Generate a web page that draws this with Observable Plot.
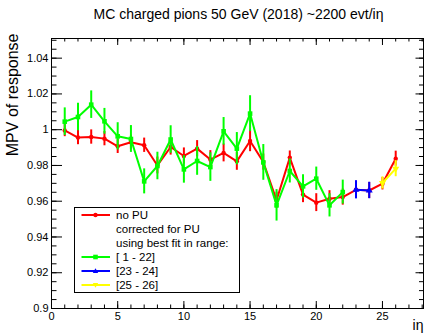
<!DOCTYPE html>
<html><head><meta charset="utf-8">
<script src="https://cdn.jsdelivr.net/npm/d3@7"></script>
<script src="https://cdn.jsdelivr.net/npm/@observablehq/plot@0.6"></script>
<style>
body{margin:0;background:#fff;font-family:"Liberation Sans",Arial,sans-serif}
#wrap{position:relative;width:429px;height:334px}
#legend{position:absolute;left:74px;top:207px;width:164px;height:84px;border:1px solid #000;background:#fff;font-size:11.5px;color:#000}
#legend .row{position:absolute;left:0;height:14px;line-height:14px;white-space:nowrap}
#legend .row span{position:absolute;left:41px;top:0}
#legend .row svg{position:absolute;left:6px;top:0}
</style>
</head><body><div id="wrap"><div id="chart"></div><div id="legend"></div></div>
<script>
// ---- data ----
const etaAll = [1,2,3,4,5,6,7,8,9,10,11,12,13,14,15,16,17,18,19,20,21,22,23,24,25,26];
const noPU    = [0.9996,0.9956,0.9959,0.9950,0.9907,0.9930,0.9913,0.9800,0.9903,0.9853,0.9894,0.9833,0.9870,0.9823,0.9937,0.9819,0.9605,0.9844,0.9637,0.9592,0.9614,0.9623,0.9664,0.9660,0.9698,0.9838];
const noPUErr = [0.0035,0.0040,0.0040,0.0040,0.0040,0.0040,0.0040,0.0047,0.0045,0.0045,0.0045,0.0050,0.0050,0.0050,0.0060,0.0045,0.0045,0.0037,0.0045,0.0050,0.0045,0.0045,0.0045,0.0045,0.0035,0.0042];

const eta1  = [1,2,3,4,5,6,7,8,9,10,11,12,13,14,15,16,17,18,19,20,21,22];
const fit1  = [1.0045,1.0071,1.0140,1.0047,0.9963,0.9948,0.9711,0.9797,0.9945,0.9778,0.9825,0.9791,0.9991,0.9894,1.0090,0.9817,0.9577,0.9769,0.9683,0.9726,0.9577,0.9651];
const fit1Err = [0.0077,0.0077,0.0077,0.0072,0.0076,0.0075,0.0070,0.0077,0.0077,0.0077,0.0080,0.0080,0.0077,0.0090,0.0100,0.0100,0.0088,0.0067,0.0065,0.0065,0.0065,0.0067];

const eta2 = [23,24];
const fit2 = [0.9664,0.9660];
const fit2Err = [0.0051,0.0046];

const eta3 = [25,26];
const fit3 = [0.9702,0.9782];
const fit3Err = [0.0034,0.0045];

const xTickVals = [0,5,10,15,20,25];
const yTickVals = [0.9,0.92,0.94,0.96,0.98,1,1.02,1.04];
const yTickLabels = ["0.9","0.92","0.94","0.96","0.98","1","1.02","1.04"];
const xMinor = d3.range(0,29,1);
const yMinor = d3.range(0,31).map(i => 0.9 + i*0.005);

const titleText = "MC charged pions 50 GeV (2018) ~2200 evt/iη";
const yLabelText = "MPV of response";
const xLabelText = "iη";

const series = [
  {name:"noPU", x:etaAll, y:noPU, e:noPUErr, color:"#ff0000", symbol:"circle", r:2.2, rot:0},
  {name:"fit1", x:eta1, y:fit1, e:fit1Err, color:"#00ff00", symbol:"square", r:2.6, rot:0},
  {name:"fit2", x:eta2, y:fit2, e:fit2Err, color:"#0000ff", symbol:"triangle", r:2.6, rot:0},
  {name:"fit3", x:eta3, y:fit3, e:fit3Err, color:"#ffff00", symbol:"triangle", r:2.6, rot:180}
];

// ---- layout ----
const W = 429, H = 334, mL = 51, mR = 6, mT = 38, mB = 26;
const pw = W - mL - mR, ph = H - mT - mB;

const marks = [];
for (const s of series) {
  const rows = s.x.map((x,i) => ({x, y:s.y[i], e:s.e[i]}));
  marks.push(Plot.ruleX(rows, {x:"x", y1:d=>d.y-d.e, y2:d=>d.y+d.e, stroke:s.color, strokeWidth:2}));
  marks.push(Plot.line(rows, {x:"x", y:"y", stroke:s.color, strokeWidth:2}));
  marks.push(Plot.dot(rows, {x:"x", y:"y", fill:s.color, stroke:"none", symbol:s.symbol, r:s.r, rotate:s.rot}));
}

const tickStyle = {stroke:"#000", strokeWidth:1};
marks.push(
  Plot.tickX(xTickVals, {x:d=>d, insetTop: ph-7, ...tickStyle}),
  Plot.tickX(xTickVals, {x:d=>d, insetBottom: ph-7, ...tickStyle}),
  Plot.tickX(xMinor, {x:d=>d, insetTop: ph-3.5, ...tickStyle}),
  Plot.tickX(xMinor, {x:d=>d, insetBottom: ph-3.5, ...tickStyle}),
  Plot.tickY(yTickVals, {y:d=>d, insetRight: pw-11, ...tickStyle}),
  Plot.tickY(yTickVals, {y:d=>d, insetLeft: pw-7.5, ...tickStyle}),
  Plot.tickY(yMinor, {y:d=>d, insetRight: pw-5.5, ...tickStyle}),
  Plot.tickY(yMinor, {y:d=>d, insetLeft: pw-4, ...tickStyle}),
  Plot.frame({stroke:"#000", strokeWidth:1}),
  Plot.axisX(xTickVals, {anchor:"bottom", tickSize:0, tickPadding:4, label:null, tickFormat:d=>String(d), fontSize:11}),
  Plot.axisY(yTickVals, {anchor:"left", tickSize:0, tickPadding:3, label:null, tickFormat:(d,i)=>yTickLabels[i], fontSize:11}),
  Plot.text([titleText], {frameAnchor:"top", dx:1, dy:-24, fontSize:14, lineAnchor:"middle"}),
  Plot.text([yLabelText], {frameAnchor:"top-left", rotate:-90, textAnchor:"end", lineAnchor:"middle", dx:-38.5, dy:-5, fontSize:16}),
  Plot.text([xLabelText], {frameAnchor:"bottom-right", textAnchor:"end", lineAnchor:"middle", dy:17, dx:0, fontSize:14})
);

const chart = Plot.plot({
  width: W, height: H,
  marginLeft: mL, marginRight: mR, marginTop: mT, marginBottom: mB,
  x: {domain:[0, 28.1], axis:null},
  y: {domain:[0.9, 1.051], axis:null},
  style: {fontFamily:'"Liberation Sans", Arial, sans-serif', background:"#fff", color:"#000"},
  marks
});
document.getElementById("chart").appendChild(chart);

// ---- legend ----
const legendItems = [
  {label:"no PU", color:"#ff0000", symbol:"circle"},
  {label:"corrected for PU", color:null},
  {label:"using best fit in range:", color:null},
  {label:"[ 1 - 22]", color:"#00ff00", symbol:"square"},
  {label:"[23 - 24]", color:"#0000ff", symbol:"triangle"},
  {label:"[25 - 26]", color:"#ffff00", symbol:"itriangle"}
];
const lg = document.getElementById("legend");
legendItems.forEach((it, i) => {
  const row = document.createElement("div");
  row.className = "row";
  row.style.top = (i*14) + "px";
  let svg = "";
  if (it.color) {
    let m = "";
    if (it.symbol === "circle") m = `<circle cx="14.5" cy="7" r="2.2" fill="${it.color}"/>`;
    else if (it.symbol === "square") m = `<rect x="12.2" y="4.7" width="4.6" height="4.6" fill="${it.color}"/>`;
    else if (it.symbol === "triangle") m = `<path d="M14.5,4.3L17.2,9L11.8,9Z" fill="${it.color}"/>`;
    else m = `<path d="M14.5,9.7L17.2,5L11.8,5Z" fill="${it.color}"/>`;
    svg = `<svg width="30" height="14"><line x1="0.5" y1="7" x2="29" y2="7" stroke="${it.color}" stroke-width="2"/>${m}</svg>`;
  }
  row.innerHTML = svg + `<span>${it.label}</span>`;
  lg.appendChild(row);
});
</script>
</body></html>
